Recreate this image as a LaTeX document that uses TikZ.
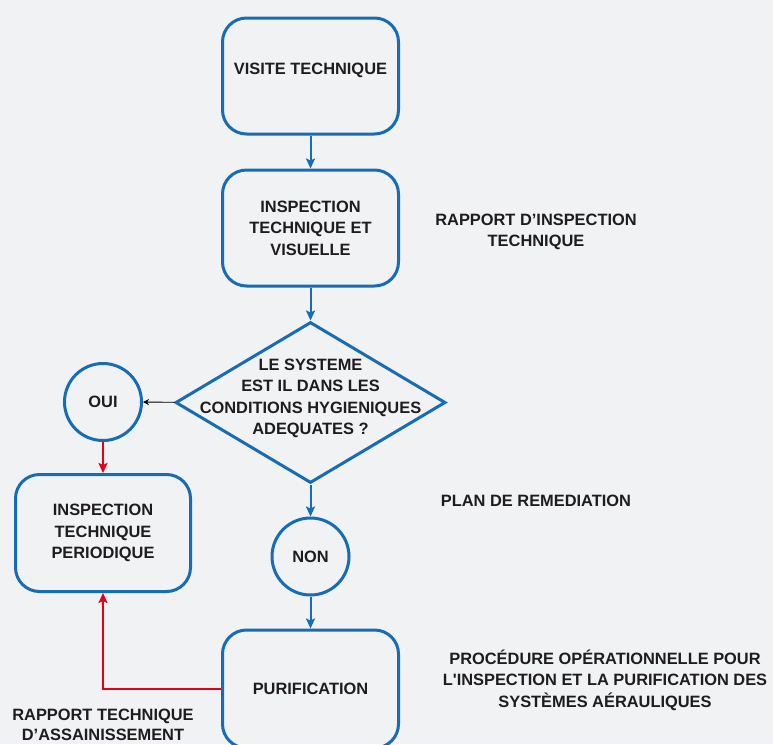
\documentclass[tikz,border=0pt]{standalone}
\usepackage{fontspec}
\setmainfont{Liberation Sans}
\usetikzlibrary{shapes.geometric, positioning, arrows.meta}
\definecolor{bleu}{RGB}{24,108,181}
\definecolor{rouge}{RGB}{226,0,26}
\definecolor{texte}{RGB}{30,28,30}
\definecolor{fond}{RGB}{241,242,243}

\begin{document}
\begin{tikzpicture}[x=1pt, y=1pt, font=\bfseries\fontsize{16.4}{21.5}\selectfont, text=texte,
    etape/.style={rectangle, rounded corners=24pt, draw=bleu, line width=3pt,
      minimum width=176pt, minimum height=116pt, align=center},
    rond/.style={circle, draw=bleu, line width=3pt, minimum size=77pt, inner sep=0pt},
    fleche/.style={draw=bleu, line width=2pt, -{Stealth[length=10pt, width=9pt, inset=2pt]}},
    retour/.style={draw=rouge, line width=2pt, -{Stealth[length=10pt, width=9pt, inset=2pt]}},
    note/.style={align=center}]

  \useasboundingbox[fill=fond] (0,0) rectangle (773,-744);
  \clip (0,0) rectangle (773,-744);

  % Etapes principales
  \node[etape, text depth=14pt] (visite) at (310.5,-76) {VISITE TECHNIQUE};
  \node[etape, below=33pt of visite] (inspection) {INSPECTION\\TECHNIQUE ET\\VISUELLE};
  \node[diamond, draw=bleu, line width=3pt, minimum width=270pt, minimum height=161pt,
    inner sep=0pt, below=33pt of inspection] (decision) {};
  \node[note, yshift=4pt] at (decision.center) {LE SYSTEME\\EST IL DANS LES\\CONDITIONS HYGIENIQUES\\ADEQUATES ?};

  % Reponses
  \node[rond] (oui) at (103,-402) {OUI};
  \node[rond, below=32pt of decision] (non) {NON};
  \node[etape, minimum width=175pt, minimum height=117pt, below=31pt of oui] (periodique) {INSPECTION\\TECHNIQUE\\PERIODIQUE};
  \node[etape, minimum height=118pt, below=32pt of non] (purification) {PURIFICATION};

  % Documents
  \node[note] (rapport) at (536,-232) {RAPPORT D’INSPECTION\\TECHNIQUE};
  \node[note] (plan) at (536,-501) {PLAN DE REMEDIATION};
  \node[note] (procedure) at (605,-680) {PROCÉDURE OPÉRATIONNELLE POUR\\L\textquotesingle INSPECTION ET LA PURIFICATION DES\\SYSTÈMES AÉRAULIQUES};
  \node[note, font=\bfseries\fontsize{16.4}{19.5}\selectfont] (assainissement) at (103,-725) {RAPPORT TECHNIQUE\\D’ASSAINISSEMENT};

  % Fleches
  \draw[fleche] (visite) -- (inspection);
  \draw[fleche] (inspection) -- (decision);
  \draw[fleche] (decision) -- (non);
  \draw[fleche] (non) -- (purification);
  \draw[line width=0.8pt, -{Stealth[length=6pt, width=6pt]}] (decision) -- (oui);
  \draw[retour] (oui) -- (periodique);
  \draw[retour] (purification.west) -| (periodique.south);

\end{tikzpicture}
\end{document}
